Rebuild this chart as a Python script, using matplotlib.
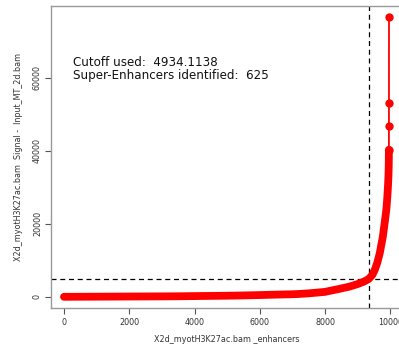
import matplotlib
matplotlib.use("Agg")
import matplotlib.pyplot as plt
import numpy as np

# ranks (enhancer order) and signal values
ranks = [1, 500, 1000, 1500, 2000, 2500, 3000, 3500, 4000, 4500, 5000, 5500, 6000,
         6500, 7000, 7200, 7500, 8000, 8150, 8400, 8760, 9000, 9200, 9340, 9450,
         9525, 9600, 9678, 9770, 9831, 9880, 9910, 9930, 9945, 9952, 9955, 9956,
         9957, 9958, 9959, 9960]
signal = [0, 20, 40, 60, 80, 100, 120, 150, 200, 250, 300, 380, 480,
          600, 700, 780, 950, 1350, 1640, 2100, 2820, 3500, 4200, 4900, 6000,
          7400, 9300, 12000, 16400, 20500, 24000, 27500, 30500, 33500, 36000, 38000, 39400,
          40300, 46850, 53150, 76600]
cutoff = 4934.1138
n_super = 625
n_total = 9960
xticks = [0, 2000, 4000, 6000, 8000, 10000]
yticks = [0, 20000, 40000, 60000]

fig = plt.figure(figsize=(3.99, 3.51), dpi=100)
W, H = 399, 351
ax = fig.add_axes([51 / W, 1 - 308 / H, (402 - 51) / W, (308 - 6) / H])

r = np.array(ranks)
s = np.array(signal)
red = "#ff0000"
# dense part: continuous band of overlapping markers
ax.plot(r[:-3], s[:-3], color=red, lw=5.6, solid_capstyle="round",
        solid_joinstyle="round", zorder=3)
# sparse top points
ax.plot(r[-4:], s[-4:], color=red, lw=1.3, marker="o", markersize=6.0,
        markeredgewidth=0, zorder=3)

ax.axhline(cutoff, color="black", lw=0.9, ls=(0, (4, 3)), zorder=2)
ax.axvline(n_total - n_super, color="black", lw=0.9, ls=(0, (4, 3)), zorder=2)

xr = n_total - 1
ax.set_xlim(1 - 0.04 * xr, n_total + 0.04 * xr)
yr = max(signal) - min(signal)
ax.set_ylim(min(signal) - 0.04 * yr, max(signal) + 0.04 * yr)

tc = "#333333"
ax.set_xticks(xticks)
ax.set_xticklabels([str(v) for v in xticks])
ax.set_yticks(yticks)
ax.set_yticklabels([str(v) for v in yticks], rotation=90, va="center")
ax.tick_params(axis="both", direction="out", length=4, width=0.8, color="#555555",
               labelsize=5.8, labelcolor=tc)
ax.tick_params(axis="x", pad=3)
ax.tick_params(axis="y", pad=2.5)
for sp in ax.spines.values():
    sp.set_color("#999999")
    sp.set_linewidth(1.0)

ax.set_xlabel("X2d_myotH3K27ac.bam _enhancers", fontsize=5.8, color=tc, labelpad=6)
ax.set_ylabel("X2d_myotH3K27ac.bam  Signal -  Input_MT_2d.bam", fontsize=5.8,
              color=tc, labelpad=7)

fig.text(73 / W, 1 - 63 / H, "Cutoff used:  4934.1138", fontsize=8.6,
         color="#111111", va="center", ha="left")
fig.text(73 / W, 1 - 76 / H, "Super-Enhancers identified:  %d" % n_super, fontsize=8.6,
         color="#111111", va="center", ha="left")

fig.savefig("out.png", dpi=100)
